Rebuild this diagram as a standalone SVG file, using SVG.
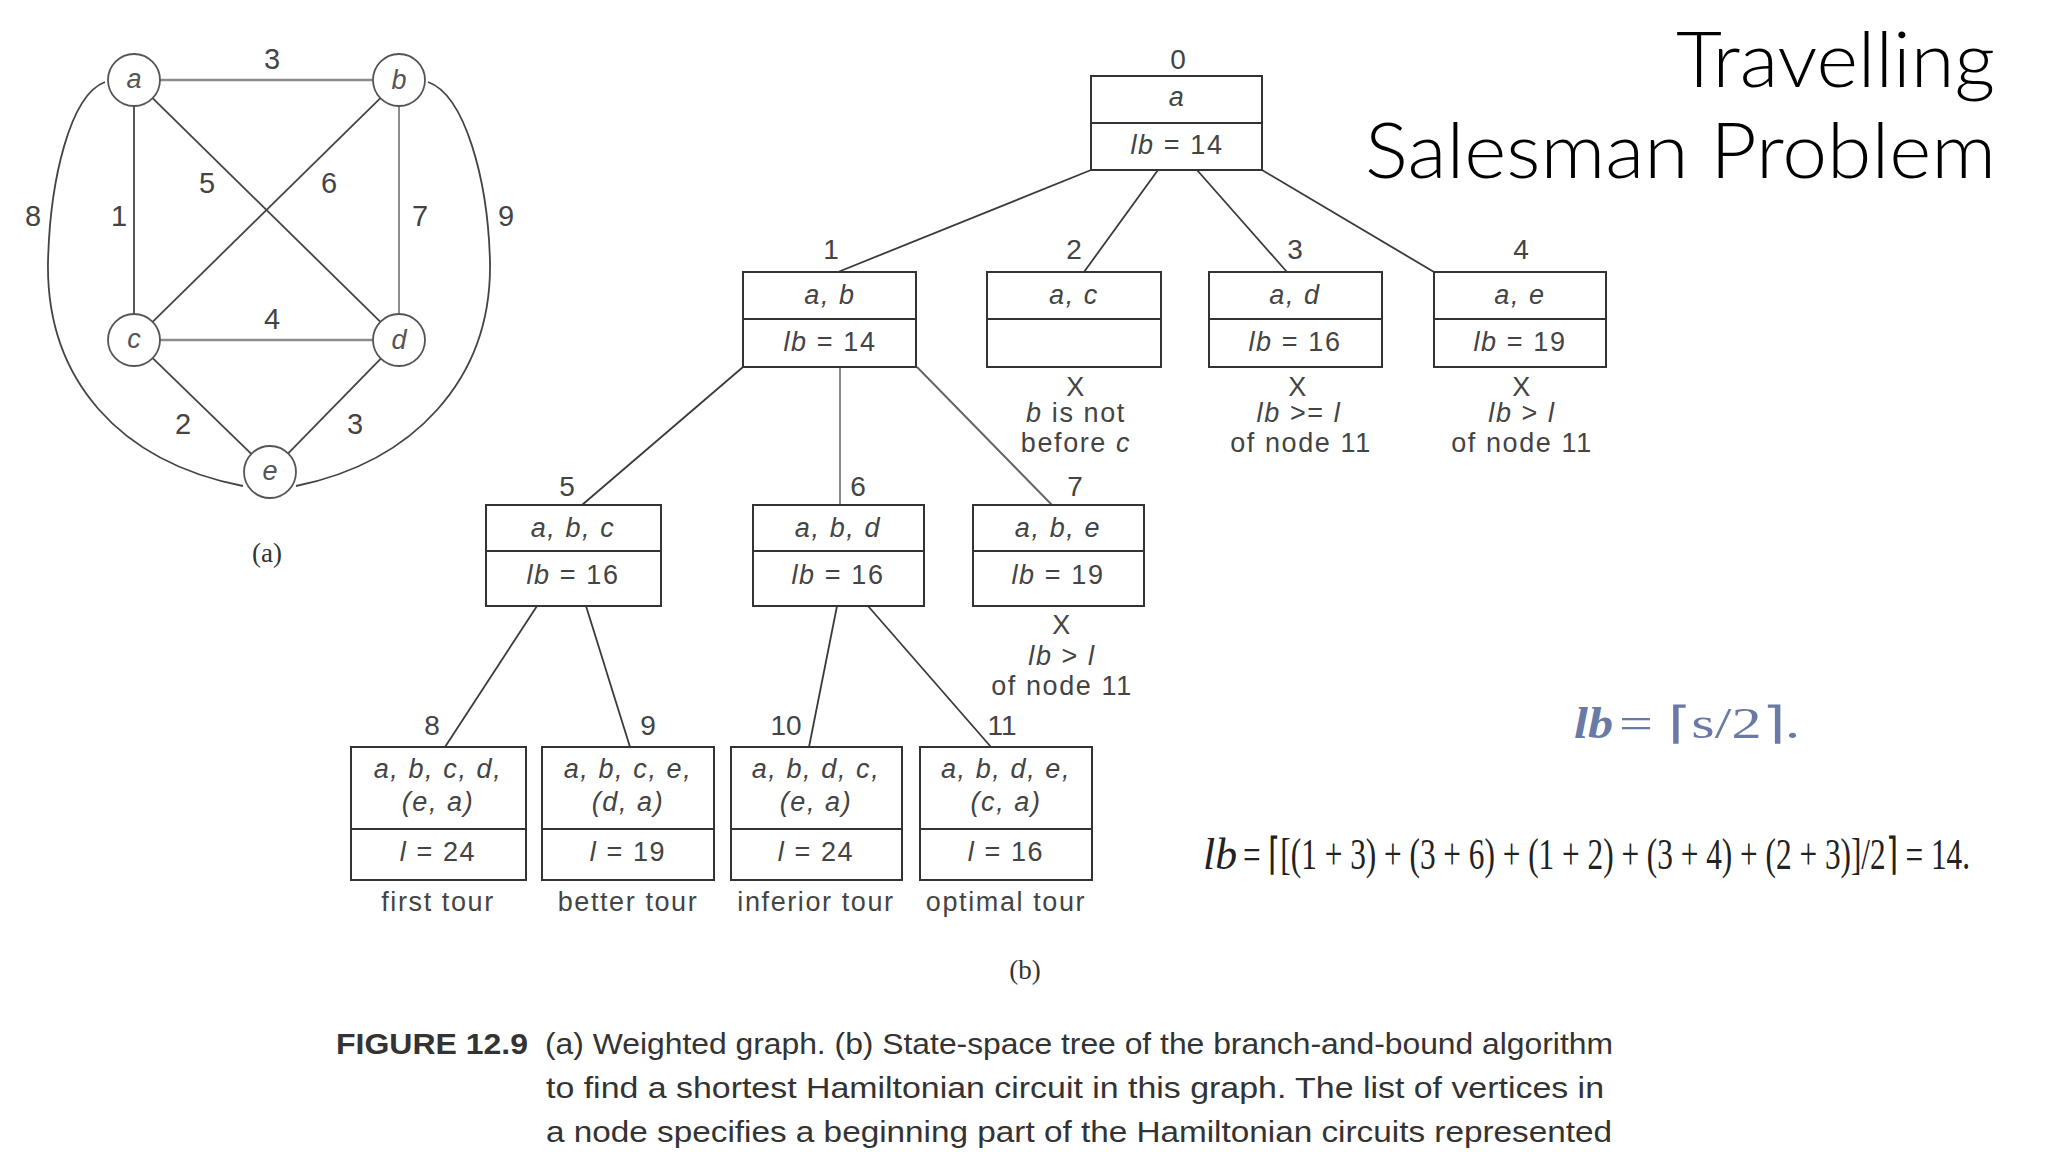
<svg xmlns="http://www.w3.org/2000/svg" width="2048" height="1152" viewBox="0 0 2048 1152">
<style>
.bg{fill:#ffffff}
.box{fill:none;stroke:#333;stroke-width:2}
.div{stroke:#333;stroke-width:2}
.edge{stroke:#3a3a3a;stroke-width:1.8;fill:none}
.edgel{stroke:#8a8a8a;stroke-width:2;fill:none}
.t{font-family:"Liberation Sans",Arial,sans-serif;font-size:27px;letter-spacing:1.6px;fill:#444;text-anchor:middle}
.num{font-family:"Liberation Sans",Arial,sans-serif;font-size:28px;fill:#444;text-anchor:middle}
.i{font-style:italic}
.gc{fill:#fff;stroke:#555;stroke-width:1.8}
.ge{stroke:#444;stroke-width:1.8;fill:none}
.gel{stroke:#8c8c8c;stroke-width:2.6;fill:none}
.gl{font-family:"Liberation Sans",Arial,sans-serif;font-size:29px;fill:#444;text-anchor:middle}
.gn{font-family:"Liberation Sans",Arial,sans-serif;font-size:27px;font-style:italic;fill:#555;text-anchor:middle}
.serif{font-family:"Liberation Serif","Times New Roman",serif}
.f2{font-family:"Liberation Serif","Times New Roman",serif;font-size:34px;fill:#222}
.cap{font-family:"Liberation Sans",Arial,sans-serif;font-size:29px;fill:#333}
.title{font-family:"Lato Light",Lato,"Open Sans",sans-serif;font-size:76px;fill:#000;font-weight:300}
</style>
<rect class="bg" x="0" y="0" width="2048" height="1152"/>

<!-- Title -->
<g id="title">
<text class="title" x="1676" y="87" textLength="319" lengthAdjust="spacingAndGlyphs">Travelling</text>
<text class="title" x="1365" y="178" textLength="631" lengthAdjust="spacingAndGlyphs">Salesman Problem</text>
</g>

<!-- Graph (a) -->
<g id="graph-edges">
<path class="ge" d="M105,82 C70,95 50,180 48,262 C46,380 120,462 243,486"/>
<path class="ge" d="M428,82 C465,95 488,180 490,262 C492,380 413,462 296,486"/>
<line class="gel" x1="160" y1="80" x2="373" y2="80"/>
<line class="gel" x1="160" y1="340" x2="373" y2="340"/>
<line class="ge" x1="134" y1="106" x2="134" y2="314"/>
<line class="gel" x1="399" y1="106" x2="399" y2="314" style="stroke-width:2"/>
<line class="ge" x1="152.6" y1="98.2" x2="380.4" y2="321.8"/>
<line class="ge" x1="380.4" y1="98.2" x2="152.6" y2="321.8"/>
<line class="ge" x1="152.7" y1="358.1" x2="251.3" y2="453.9"/>
<line class="ge" x1="380.8" y1="358.6" x2="288.2" y2="453.4"/>
<text class="gl" x="272" y="69">3</text>
<text class="gl" x="207" y="193">5</text>
<text class="gl" x="329" y="193">6</text>
<text class="gl" x="119" y="226">1</text>
<text class="gl" x="420" y="226">7</text>
<text class="gl" x="33" y="226">8</text>
<text class="gl" x="506" y="226">9</text>
<text class="gl" x="272" y="329">4</text>
<text class="gl" x="183" y="434">2</text>
<text class="gl" x="355" y="434">3</text>
</g>
<g id="gnode-a"><circle class="gc" cx="134" cy="80" r="26"/><text class="gn" x="134" y="88">a</text></g>
<g id="gnode-b"><circle class="gc" cx="399" cy="80" r="26"/><text class="gn" x="399" y="89">b</text></g>
<g id="gnode-c"><circle class="gc" cx="134" cy="340" r="26"/><text class="gn" x="134" y="348">c</text></g>
<g id="gnode-d"><circle class="gc" cx="399" cy="340" r="26"/><text class="gn" x="399" y="349">d</text></g>
<g id="gnode-e"><circle class="gc" cx="270" cy="472" r="26"/><text class="gn" x="270" y="480">e</text></g>
<text class="serif" x="267" y="562" font-size="27" fill="#333" text-anchor="middle">(a)</text>

<!-- Tree connectors -->
<g id="connectors">
<line class="edge" x1="1091" y1="170" x2="838" y2="272"/>
<line class="edge" x1="1158" y1="170" x2="1084" y2="272"/>
<line class="edge" x1="1197" y1="170" x2="1287" y2="272"/>
<line class="edge" x1="1262" y1="170" x2="1434" y2="272"/>
<line class="edge" x1="743" y1="367" x2="582" y2="505"/>
<line class="edgel" x1="840" y1="367" x2="840" y2="505"/>
<line class="edgel" x1="917" y1="367" x2="1052" y2="505" style="stroke:#666"/>
<line class="edge" x1="537" y1="606" x2="445" y2="747"/>
<line class="edge" x1="586" y1="606" x2="630" y2="747"/>
<line class="edge" x1="837" y1="606" x2="809" y2="747"/>
<line class="edge" x1="868" y1="606" x2="991" y2="747"/>
</g>

<!-- Tree nodes -->
<g id="node0">
<text class="num" x="1178" y="69">0</text>
<rect class="box" x="1091" y="76" width="171" height="94"/>
<line class="div" x1="1091" y1="123" x2="1262" y2="123"/>
<text class="t i" x="1177" y="106">a</text>
<text class="t" x="1177" y="154"><tspan class="i">lb</tspan> = 14</text>
</g>

<g id="node1">
<text class="num" x="831" y="259">1</text>
<rect class="box" x="743" y="272" width="173" height="95"/>
<line class="div" x1="743" y1="319" x2="916" y2="319"/>
<text class="t i" x="830" y="304">a, b</text>
<text class="t" x="830" y="351"><tspan class="i">lb</tspan> = 14</text>
</g>

<g id="node2">
<text class="num" x="1074" y="259">2</text>
<rect class="box" x="987" y="272" width="174" height="95"/>
<line class="div" x1="987" y1="319" x2="1161" y2="319"/>
<text class="t i" x="1074" y="304">a, c</text>
<text class="t" x="1076" y="396">X</text>
<text class="t" x="1076" y="422"><tspan class="i">b</tspan> is not</text>
<text class="t" x="1076" y="452">before <tspan class="i">c</tspan></text>
</g>

<g id="node3">
<text class="num" x="1295" y="259">3</text>
<rect class="box" x="1209" y="272" width="173" height="95"/>
<line class="div" x1="1209" y1="319" x2="1382" y2="319"/>
<text class="t i" x="1295" y="304">a, d</text>
<text class="t" x="1295" y="351"><tspan class="i">lb</tspan> = 16</text>
<text class="t" x="1298" y="396">X</text>
<text class="t" x="1299" y="422"><tspan class="i">lb</tspan> &gt;= <tspan class="i">l</tspan></text>
<text class="t" x="1301" y="452">of node 11</text>
</g>

<g id="node4">
<text class="num" x="1521" y="259">4</text>
<rect class="box" x="1434" y="272" width="172" height="95"/>
<line class="div" x1="1434" y1="319" x2="1606" y2="319"/>
<text class="t i" x="1520" y="304">a, e</text>
<text class="t" x="1520" y="351"><tspan class="i">lb</tspan> = 19</text>
<text class="t" x="1522" y="396">X</text>
<text class="t" x="1522" y="422"><tspan class="i">lb</tspan> &gt; <tspan class="i">l</tspan></text>
<text class="t" x="1522" y="452">of node 11</text>
</g>

<g id="node5">
<text class="num" x="567" y="496">5</text>
<rect class="box" x="486" y="505" width="175" height="101"/>
<line class="div" x1="486" y1="551" x2="661" y2="551"/>
<text class="t i" x="573" y="537">a, b, c</text>
<text class="t" x="573" y="584"><tspan class="i">lb</tspan> = 16</text>
</g>

<g id="node6">
<text class="num" x="858" y="496">6</text>
<rect class="box" x="753" y="505" width="171" height="101"/>
<line class="div" x1="753" y1="551" x2="924" y2="551"/>
<text class="t i" x="838" y="537">a, b, d</text>
<text class="t" x="838" y="584"><tspan class="i">lb</tspan> = 16</text>
</g>

<g id="node7">
<text class="num" x="1075" y="496">7</text>
<rect class="box" x="973" y="505" width="171" height="101"/>
<line class="div" x1="973" y1="551" x2="1144" y2="551"/>
<text class="t i" x="1058" y="537">a, b, e</text>
<text class="t" x="1058" y="584"><tspan class="i">lb</tspan> = 19</text>
<text class="t" x="1062" y="634">X</text>
<text class="t" x="1062" y="665"><tspan class="i">lb</tspan> &gt; <tspan class="i">l</tspan></text>
<text class="t" x="1062" y="695">of node 11</text>
</g>

<g id="node8">
<text class="num" x="432" y="735">8</text>
<rect class="box" x="351" y="747" width="175" height="133"/>
<line class="div" x1="351" y1="829" x2="526" y2="829"/>
<text class="t i" x="438" y="778">a, b, c, d,</text>
<text class="t i" x="438" y="811">(e, a)</text>
<text class="t" x="438" y="861"><tspan class="i">l</tspan> = 24</text>
<text class="t" x="438" y="911">first tour</text>
</g>

<g id="node9">
<text class="num" x="648" y="735">9</text>
<rect class="box" x="542" y="747" width="172" height="133"/>
<line class="div" x1="542" y1="829" x2="714" y2="829"/>
<text class="t i" x="628" y="778">a, b, c, e,</text>
<text class="t i" x="628" y="811">(d, a)</text>
<text class="t" x="628" y="861"><tspan class="i">l</tspan> = 19</text>
<text class="t" x="628" y="911">better tour</text>
</g>

<g id="node10">
<text class="num" x="786" y="735">10</text>
<rect class="box" x="731" y="747" width="171" height="133"/>
<line class="div" x1="731" y1="829" x2="902" y2="829"/>
<text class="t i" x="816" y="778">a, b, d, c,</text>
<text class="t i" x="816" y="811">(e, a)</text>
<text class="t" x="816" y="861"><tspan class="i">l</tspan> = 24</text>
<text class="t" x="816" y="911">inferior tour</text>
</g>

<g id="node11">
<text class="num" x="1002" y="735">11</text>
<rect class="box" x="920" y="747" width="172" height="133"/>
<line class="div" x1="920" y1="829" x2="1092" y2="829"/>
<text class="t i" x="1006" y="778">a, b, d, e,</text>
<text class="t i" x="1006" y="811">(c, a)</text>
<text class="t" x="1006" y="861"><tspan class="i">l</tspan> = 16</text>
<text class="t" x="1006" y="911">optimal tour</text>
</g>

<text class="serif" x="1025" y="979" font-size="27" fill="#333" text-anchor="middle">(b)</text>

<!-- Formulas -->
<g id="formulas">
<text class="serif" x="1574" y="738" font-size="44" font-style="italic" font-weight="bold" fill="#6a7aa6" textLength="39" lengthAdjust="spacingAndGlyphs">lb</text>
<text class="serif" x="1619" y="738" font-size="44" fill="#6a7aa6" textLength="181" lengthAdjust="spacingAndGlyphs">= ⌈s/2⌉.</text>
<text class="f2" transform="translate(1203,869) scale(1,1.3)" x="0" y="0" font-style="italic" textLength="34" lengthAdjust="spacingAndGlyphs">lb</text>
<text class="f2" transform="translate(1243,869) scale(1,1.3)" x="0" y="0" textLength="727" lengthAdjust="spacingAndGlyphs">= ⌈[(1 + 3) + (3 + 6) + (1 + 2) + (3 + 4) + (2 + 3)]/2⌉ = 14.</text>
</g>

<!-- Caption -->
<g id="caption">
<text class="cap" x="336" y="1054" font-weight="bold" textLength="192" lengthAdjust="spacingAndGlyphs">FIGURE 12.9</text>
<text class="cap" x="545" y="1054" textLength="1068" lengthAdjust="spacingAndGlyphs">(a) Weighted graph. (b) State-space tree of the branch-and-bound algorithm</text>
<text class="cap" x="546" y="1098" textLength="1058" lengthAdjust="spacingAndGlyphs">to find a shortest Hamiltonian circuit in this graph. The list of vertices in</text>
<text class="cap" x="546" y="1142" textLength="1066" lengthAdjust="spacingAndGlyphs">a node specifies a beginning part of the Hamiltonian circuits represented</text>
</g>
</svg>
